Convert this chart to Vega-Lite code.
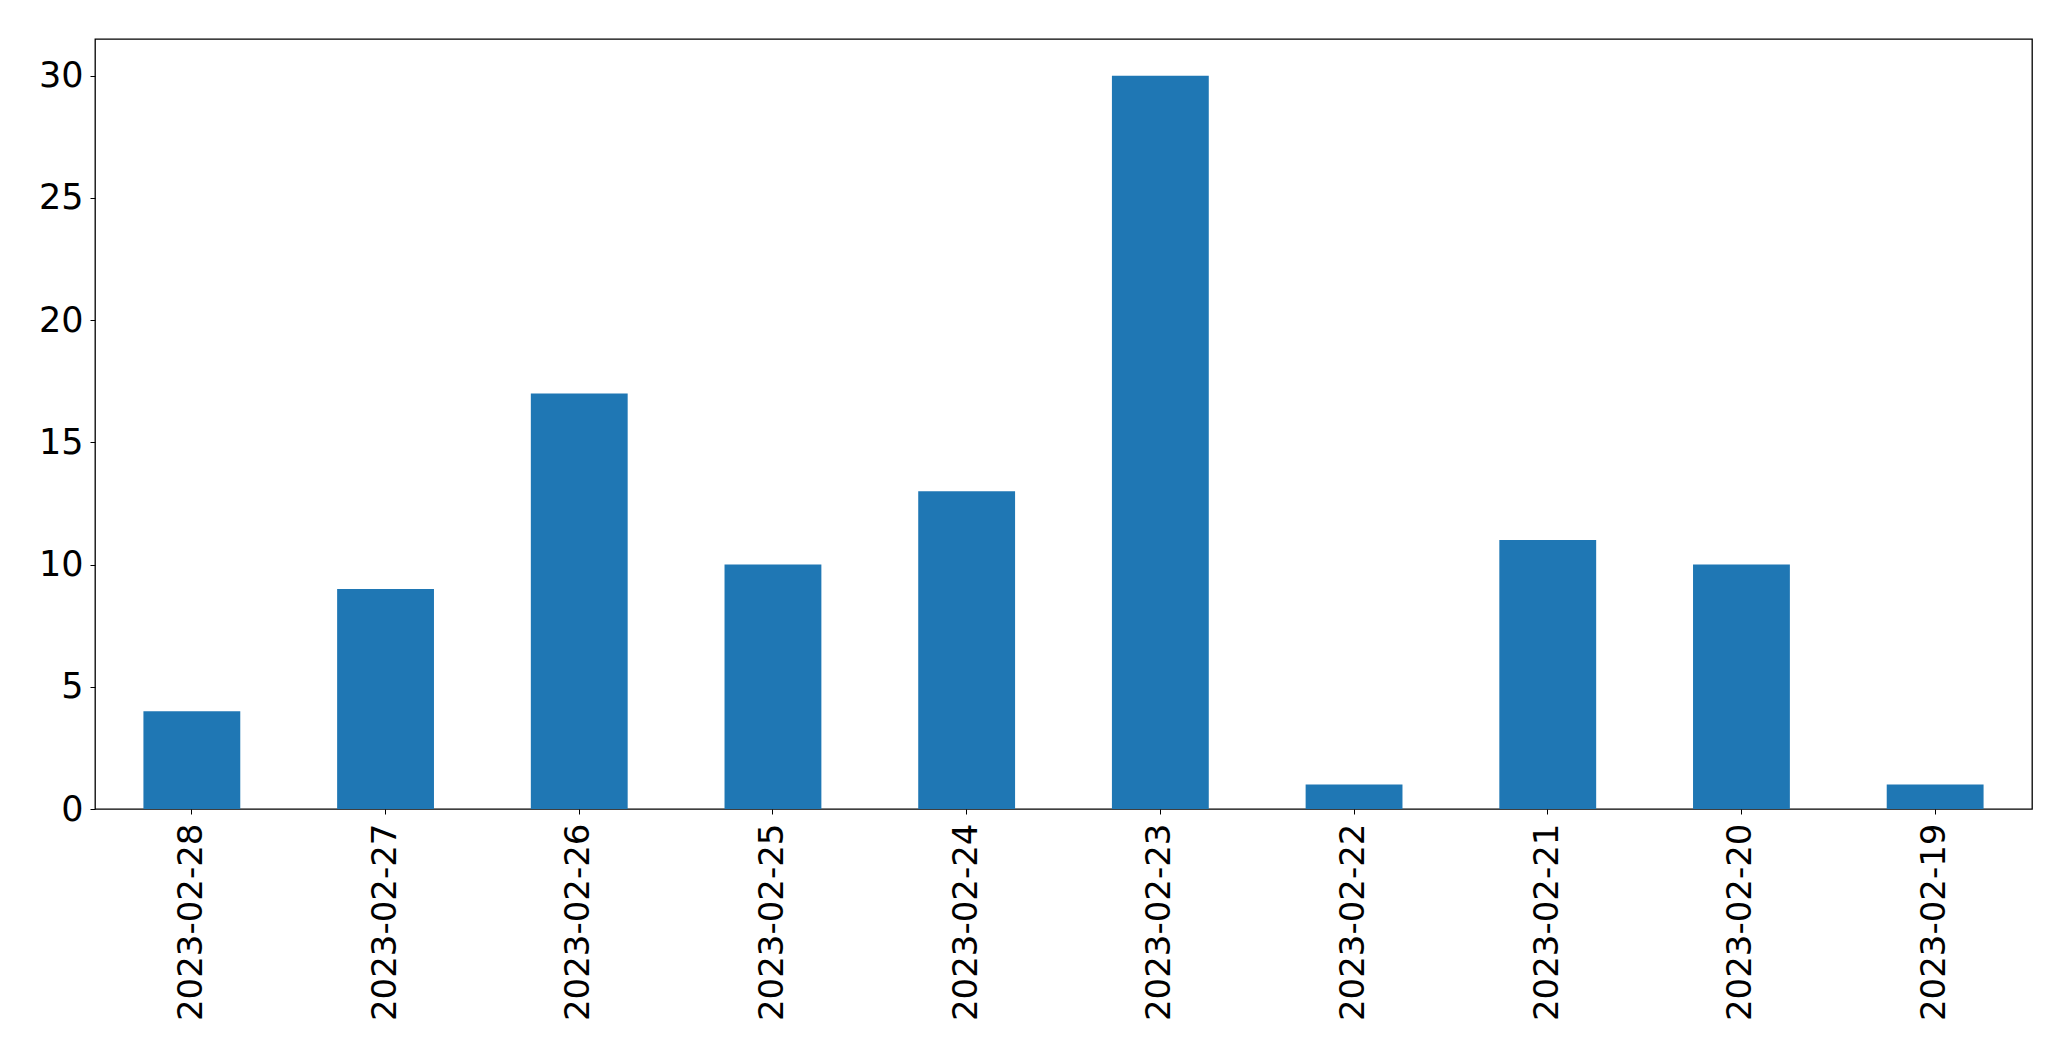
{
  "$schema": "https://vega.github.io/schema/vega-lite/v6.json",
  "autosize": {"type": "none"},
  "padding": {"left": 95, "top": 39, "right": 39, "bottom": 252},
  "width": 1937,
  "height": 770,
  "background": "white",
  "data": {"values": [
    {"date": "2023-02-28", "count": 4},
    {"date": "2023-02-27", "count": 9},
    {"date": "2023-02-26", "count": 17},
    {"date": "2023-02-25", "count": 10},
    {"date": "2023-02-24", "count": 13},
    {"date": "2023-02-23", "count": 30},
    {"date": "2023-02-22", "count": 1},
    {"date": "2023-02-21", "count": 11},
    {"date": "2023-02-20", "count": 10},
    {"date": "2023-02-19", "count": 1}
  ]},
  "mark": {"type": "bar", "color": "#1f77b4"},
  "encoding": {
    "x": {
      "field": "date", "type": "nominal", "sort": null,
      "scale": {"paddingInner": 0.5, "paddingOuter": 0.25},
      "axis": {"title": null, "labelAngle": 270, "labelAlign": "right", "labelBaseline": "middle",
               "labelFont": "DejaVu Sans", "labelFontSize": 34, "labelColor": "black", "labelLimit": 0,
               "labelPadding": 9, "tickSize": 5, "tickColor": "black", "domain": false, "grid": false}
    },
    "y": {
      "field": "count", "type": "quantitative",
      "scale": {"domain": [0, 31.5], "nice": false},
      "axis": {"title": null, "values": [0, 5, 10, 15, 20, 25, 30],
               "labelFont": "DejaVu Sans", "labelFontSize": 35, "labelColor": "black",
               "labelPadding": 7, "tickSize": 5, "tickColor": "black", "domain": false, "grid": false}
    }
  },
  "config": {"view": {"stroke": "black", "strokeWidth": 1.3}}
}
